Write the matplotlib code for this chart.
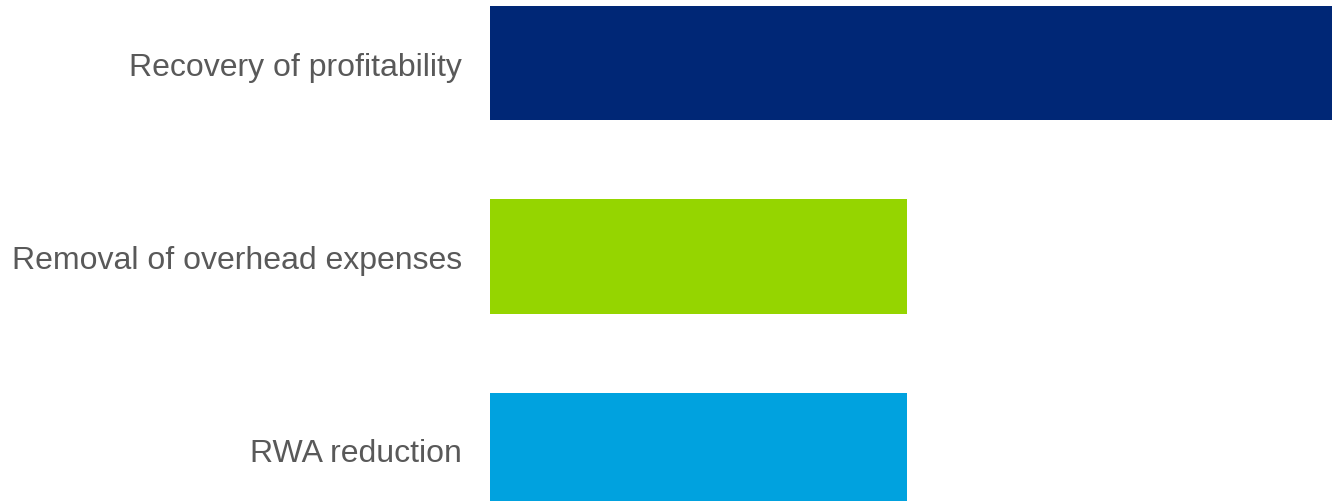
import matplotlib.pyplot as plt

categories = ["Recovery of profitability", "Removal of overhead expenses", "RWA reduction"]
values = [1.0, 0.495, 0.495]
colors = ["#002776", "#95D500", "#00A2DF"]

plt.rcParams['font.family'] = ['Liberation Sans', 'DejaVu Sans']

fig = plt.figure(figsize=(13.32, 5.02), dpi=100)
ax = fig.add_axes([490 / 1332, 0, 1 - 490 / 1332, 1])

pos = range(len(categories))
ax.barh(pos, values, height=0.59, color=colors)

ax.set_xlim(0, 1.0)
ax.set_ylim(2.264, -0.331)
ax.set_yticks(list(pos))
ax.set_yticklabels(categories, fontsize=23, color="#595959")
ax.tick_params(axis="y", length=0, pad=20)
ax.set_xticks([])
for s in ax.spines.values():
    s.set_visible(False)

fig.savefig("out.png", dpi=100)
